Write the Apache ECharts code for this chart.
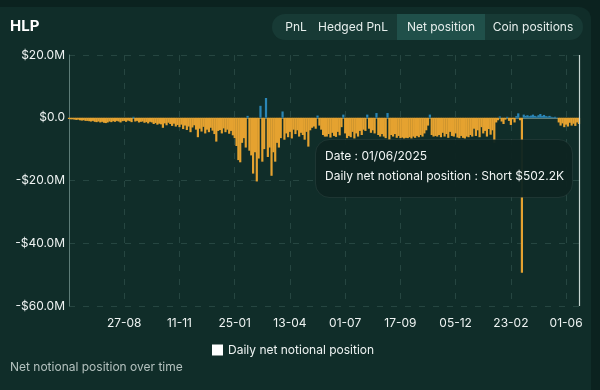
<!DOCTYPE html>
<html><head><meta charset="utf-8">
<script src="https://cdn.jsdelivr.net/npm/echarts@6/dist/echarts.min.js"></script>
<style>
html,body{margin:0;padding:0;background:#0b221f;width:600px;height:390px;overflow:hidden;font-family:Inter,"Noto Sans",sans-serif;}
#card{position:absolute;left:0;top:7px;width:591px;height:400px;background:#102d29;border-radius:0 12px 0 0;}
#chart{position:absolute;left:0;top:0;width:600px;height:390px;}
</style></head>
<body>
<div id="card"></div>
<div id="chart"></div>
<script>
// Daily net notional position, in $M (negative = short)
const values = [
-0.4,-0.5,-0.5,-0.6,-0.7,-0.6,-0.8,-0.9,-0.8,-1.0,
-1.0,-1.1,-1.2,-1.0,-1.3,-1.4,-1.2,-1.5,-1.3,-1.6,
-1.7,-1.5,-1.2,-1.4,-1.1,-1.3,-1.0,-1.2,-1.5,-1.1,
-1.0,-1.3,-0.9,-1.1,-1.4,0.3,-1.2,-1.0,-1.5,-1.3,
-1.2,-1.6,-1.4,-1.8,-1.3,-1.5,-2.0,-1.7,-2.2,-1.9,
-2.1,-3.2,-1.8,-2.4,-1.6,-2.0,-2.6,-1.9,-2.8,-2.3,
-3.0,-2.2,-3.6,-2.5,-3.9,-2.8,-4.6,-3.1,-2.4,-3.8,
-6.2,-3.5,-4.4,-2.9,-5.0,-3.8,-4.6,-3.2,-4.1,-5.2,
-7.6,-4.2,-3.9,-5.0,-3.4,-4.6,-3.8,-5.1,-4.2,-5.6,
-6.5,-9.0,-13.5,-14.2,-8.0,-6.5,-9.5,0.6,-10.5,-12.0,
-17.8,-11.0,-20.3,-13.0,3.8,-14.0,-10.0,6.3,-12.5,-9.5,
-18.5,-11.0,-14.0,-8.0,-9.5,-6.5,2.0,-7.0,-5.0,-6.2,
-4.5,-6.6,-3.8,-5.2,-4.0,-6.0,-4.8,-5.5,-7.0,-4.5,
-9.2,-4.0,-3.2,-2.8,-3.5,0.7,-2.5,-3.8,-5.5,-6.0,
-6.0,-5.2,-6.3,-4.8,-5.8,-6.1,-4.5,-5.6,-3.0,1.0,
-5.0,-6.5,-5.8,-6.2,-4.5,-6.6,-5.0,-6.0,-4.2,-5.5,
-3.8,-4.2,1.0,-3.5,-4.8,-4.0,-5.0,1.5,-5.5,-6.0,
-5.2,-6.0,-6.5,1.5,-7.0,-5.5,-6.0,-5.2,-6.4,-5.8,
-6.5,-6.3,-6.6,-6.4,-6.5,-6.2,-6.6,-6.0,-6.4,-5.8,
-6.2,-5.5,-6.0,-5.0,-4.0,-2.5,1.0,-5.5,-6.0,-5.8,
-6.0,-5.5,-6.2,-4.8,-6.0,-5.2,-6.4,-4.5,-5.8,-6.0,
-5.0,-6.3,-6.5,-5.8,-6.4,-6.6,-6.0,-6.2,-5.5,-6.0,
-3.5,-5.8,-4.0,-6.2,-3.0,-5.0,-4.2,-6.0,-3.6,-5.4,
-4.0,-8.0,-1.5,-0.8,0.4,-1.2,-2.0,-0.6,0.3,-1.0,
-2.3,-0.5,-1.5,0.5,1.4,-0.8,-49.4,1.0,0.6,0.8,
0.5,0.7,1.0,0.6,0.4,0.8,1.2,0.6,0.9,0.5,
0.4,0.6,0.3,0.2,0.3,0.1,-1.5,-2.5,-1.8,-3.0,
-2.2,-2.8,-1.6,-2.5,-1.9,-2.6,-1.5,-2.0
];
const tickLabels = ['27-08','11-11','25-01','13-04','01-07','17-09','05-12','23-02','01-06'];
const labelStep = 30;
const seriesName = 'Daily net notional position';
const buttons = ['PnL','Hedged PnL','Net position','Coin positions'];
const tooltipLines = ['Date : 01/06/2025','Daily net notional position : Short $502.2K'];

const categories = values.map((_, i) => i);
const FONT = 'Inter, "Noto Sans", sans-serif';

const chart = echarts.init(document.getElementById('chart'), null, {renderer:'canvas'});

function fmtY(v){
  if (v === 0) return '$0.0';
  return (v < 0 ? '-' : '') + '$' + Math.abs(v).toFixed(1) + 'M';
}

const btnGraphics = [
  {type:'rect', left:272, top:14, shape:{width:311, height:26, r:13}, style:{fill:'#173a35'}, z:10},
  {type:'rect', left:397, top:14, shape:{width:88, height:26, r:0}, style:{fill:'#20504a'}, z:11}
];
const btnCenters = [296, 353, 441, 533];
buttons.forEach((b, i) => {
  btnGraphics.push({type:'text', x:btnCenters[i], y:27, z:12,
    style:{text:b, fill:'#e6eeec', font:'12px ' + FONT, textAlign:'center', textVerticalAlign:'middle'}});
});

chart.setOption({
  animation:false,
  backgroundColor:'transparent',
  grid:{left:69, right:21, top:55, bottom:84},
  legend:{
    data:[{name:seriesName, itemStyle:{color:'#ffffff'}}],
    left:207, top:339, icon:'rect', itemWidth:11, itemHeight:11, itemGap:4,
    textStyle:{color:'#eef3f2', fontSize:12, fontFamily:FONT}
  },
  xAxis:{
    type:'category', data:categories, boundaryGap:false,
    axisLine:{show:true, lineStyle:{color:'#5d7c77', width:1}},
    axisTick:{show:false},
    axisLabel:{
      interval:labelStep-1, color:'#eef3f2', fontSize:12, fontFamily:FONT, margin:11,
      formatter:(v, i) => { const k = i / labelStep; return (k >= 1 && k <= tickLabels.length) ? tickLabels[k-1] : ''; }
    },
    splitLine:{show:true, interval:labelStep-1, lineStyle:{color:'rgba(120,160,152,0.22)', type:[6,8]}}
  },
  yAxis:{
    type:'value', min:-60, max:20, interval:20,
    axisLine:{show:true, lineStyle:{color:'#5d7c77', width:1}},
    axisTick:{show:false},
    axisLabel:{color:'#eef3f2', fontSize:12, fontFamily:FONT, margin:4, formatter:fmtY},
    splitLine:{show:true, lineStyle:{color:'rgba(120,160,152,0.22)', type:[6,8]}}
  },
  series:[{
    name:seriesName, type:'bar', data:values, barWidth:2.2, large:false,
    itemStyle:{color:(p) => p.value < 0 ? '#e5a230' : '#2b86b6'},
    markLine:{
      silent:true, symbol:'none', label:{show:false},
      lineStyle:{color:'#c7d6d2', type:'solid', width:1.2},
      data:[{xAxis:values.length-1}]
    }
  }],
  graphic:[
    {type:'text', left:10, top:19, style:{text:'HLP', fill:'#ffffff', font:'bold 15px ' + FONT}},
    ...btnGraphics,
    {type:'text', left:10, top:361, style:{text:'Net notional position over time', fill:'#b3c1be', font:'12px ' + FONT}},
    {type:'group', z:50, children:[
      {type:'rect', left:315, top:139, shape:{width:257, height:58, r:14},
        style:{fill:'rgba(14,36,33,0.96)', stroke:'rgba(255,255,255,0.07)', lineWidth:1}, z:50},
      {type:'text', left:325, top:150, z:51, style:{text:tooltipLines[0], fill:'#f2f6f5', font:'12px ' + FONT}},
      {type:'text', left:325, top:170, z:51, style:{text:tooltipLines[1], fill:'#f2f6f5', font:'12px ' + FONT}}
    ]}
  ]
});
</script>
</body></html>
